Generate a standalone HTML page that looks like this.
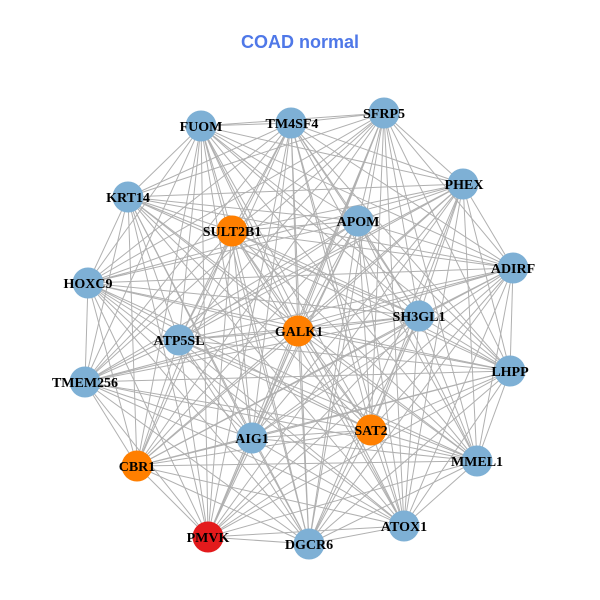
<!DOCTYPE html>
<html><head><meta charset="utf-8"><style>
html,body{margin:0;padding:0;background:#fff;}
svg{display:block;}
</style></head><body>
<svg id="g" width="600" height="600" viewBox="0 0 600 600" xmlns="http://www.w3.org/2000/svg">
<rect width="600" height="600" fill="#fff"/>
<text x="300" y="48" text-anchor="middle" font-family="Liberation Sans, sans-serif" font-weight="bold" font-size="18" fill="#4f78e8">COAD normal</text>
<g id="edges" stroke="#b0b0b0" stroke-width="1"></g>
<g id="nodes"></g>
<g font-family="Liberation Serif, serif" font-weight="bold" font-size="14" text-anchor="middle" fill="#000">
<text x="201" y="131">FUOM</text>
<text x="292" y="128">TM4SF4</text>
<text x="384" y="118">SFRP5</text>
<text x="464" y="189">PHEX</text>
<text x="128" y="202">KRT14</text>
<text x="232" y="236">SULT2B1</text>
<text x="358" y="226">APOM</text>
<text x="513" y="273">ADIRF</text>
<text x="88" y="288">HOXC9</text>
<text x="419" y="321">SH3GL1</text>
<text x="299" y="336">GALK1</text>
<text x="179" y="345">ATP5SL</text>
<text x="510" y="376">LHPP</text>
<text x="85" y="387">TMEM256</text>
<text x="252" y="443">AIG1</text>
<text x="371" y="435">SAT2</text>
<text x="477" y="466">MMEL1</text>
<text x="137" y="471">CBR1</text>
<text x="208" y="542">PMVK</text>
<text x="309" y="549">DGCR6</text>
<text x="404" y="531">ATOX1</text>
</g>
</svg>
<script>
var N=[[201,126,'b'],[291,123,'b'],[384,113,'b'],[463,184,'b'],[128,197,'b'],[232,231,'o'],[358,221,'b'],[513,268,'b'],[88,283,'b'],[419,316,'b'],[298,331,'o'],[179,340,'b'],[510,371,'b'],[85,382,'b'],[252,438,'b'],[371,430,'o'],[477,461,'b'],[137,466,'o'],[208,537,'r'],[309,544,'b'],[404,526,'b']];
var C={b:'#7eb0d5',o:'#ff7f00',r:'#e31a1c'};
var ns='http://www.w3.org/2000/svg',E=document.getElementById('edges'),G=document.getElementById('nodes');
for(var i=0;i<N.length;i++)for(var j=i+1;j<N.length;j++){var l=document.createElementNS(ns,'line');l.setAttribute('x1',N[i][0]);l.setAttribute('y1',N[i][1]);l.setAttribute('x2',N[j][0]);l.setAttribute('y2',N[j][1]);E.appendChild(l);}
for(var k=0;k<N.length;k++){var c=document.createElementNS(ns,'circle');c.setAttribute('cx',N[k][0]);c.setAttribute('cy',N[k][1]);c.setAttribute('r',15.5);c.setAttribute('fill',C[N[k][2]]);G.appendChild(c);}
</script>
</body></html>
